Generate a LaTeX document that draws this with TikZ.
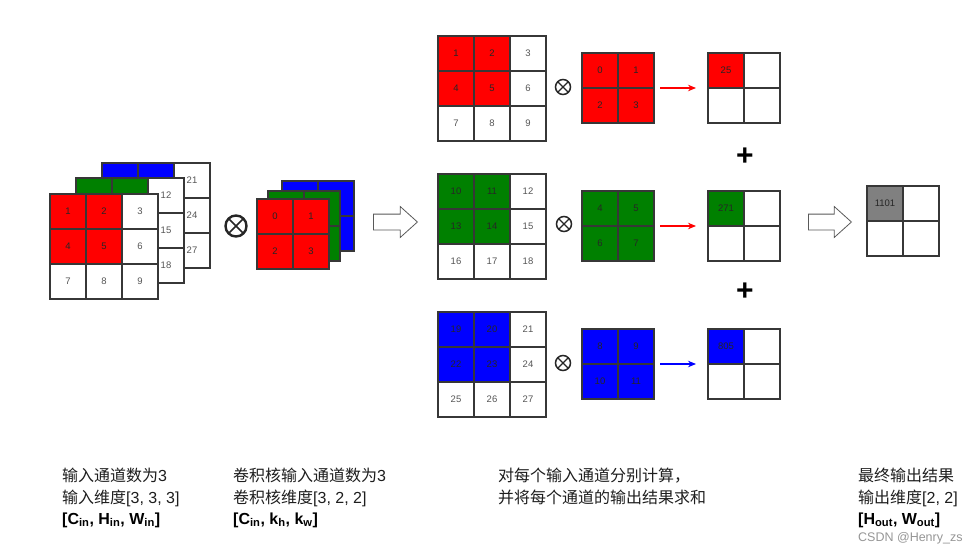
\documentclass[tikz,border=0pt]{standalone}
\usepackage{fontspec}
\setmainfont{Liberation Sans}
\newfontfamily\cjk{Noto Sans CJK SC}
\usetikzlibrary{shapes.arrows,fit,arrows.meta}
\definecolor{cred}{RGB}{255,0,0}
\definecolor{cgreen}{RGB}{0,128,0}
\definecolor{cblue}{RGB}{0,0,255}
\definecolor{cgray}{RGB}{128,128,128}
\definecolor{edge}{RGB}{55,55,55}
\definecolor{numgray}{RGB}{85,85,85}
\definecolor{txt}{RGB}{30,30,30}
\definecolor{wm}{RGB}{150,150,150}

\tikzset{
  cell/.style={draw=edge, line width=1.1pt, minimum width=36pt, minimum height=35pt,
    inner sep=0pt, outer sep=0pt, anchor=north west, font=\fontsize{9.5}{9.5}\selectfont},
  hollow/.style={single arrow, draw=black!65, line width=0.8pt, fill=white,
    minimum height=44pt, inner xsep=0pt, inner ysep=7.5pt,
    single arrow head extend=7.5pt, single arrow tip angle=84, anchor=west},
  bigotimes/.style={circle, draw=black!85, line width=2.4pt, minimum size=21pt, inner sep=0pt,
    path picture={\draw[black!85, line width=1.6pt]
      (path picture bounding box.north west) -- (path picture bounding box.south east)
      (path picture bounding box.north east) -- (path picture bounding box.south west);}},
  smallotimes/.style={circle, draw=black!85, line width=1.5pt, minimum size=15pt, inner sep=0pt,
    path picture={\draw[black!85, line width=1.1pt]
      (path picture bounding box.north west) -- (path picture bounding box.south east)
      (path picture bounding box.north east) -- (path picture bounding box.south west);}},
  resarrow/.style={-{Stealth[length=8pt,width=6.5pt]}, line width=1.1pt, shorten <=6pt, shorten >=12pt},
  fitbox/.style={inner sep=0pt, outer sep=0pt},
  plussign/.style={font=\bfseries\fontsize{30}{30}\selectfont, inner sep=0pt, text=black},
  captxt/.style={anchor=base west, inner sep=0pt, text=txt, font=\fontsize{16}{16}\selectfont},
  capbold/.style={anchor=base west, inner sep=0pt, text=black, font=\bfseries\fontsize{16}{16}\selectfont},
  wmark/.style={anchor=base west, inner sep=0pt, text=wm, font=\fontsize{12.5}{12.5}\selectfont}
}

% 3x3 grid, top-left 2x2 coloured
\newcommand\threegrid[5]{%
  \foreach \lab [count=\i from 0] in {#5}{%
    \pgfmathtruncatemacro\rr{floor(\i/3)}%
    \pgfmathtruncatemacro\cc{mod(\i,3)}%
    \def\fc{white}\def\tc{numgray}%
    \ifnum\rr<2 \ifnum\cc<2 \def\fc{#4}\def\tc{black!85}\fi\fi
    \node[cell, fill=\fc, text=\tc] (#1-\rr-\cc) at ({#2+\cc*36}, {#3+\rr*35}) {\lab};
  }}
% 2x2 grid, all cells coloured
\newcommand\twogrid[5]{%
  \foreach \lab [count=\i from 0] in {#5}{%
    \pgfmathtruncatemacro\rr{floor(\i/2)}%
    \pgfmathtruncatemacro\cc{mod(\i,2)}%
    \node[cell, fill=#4, text=black!85] (#1-\rr-\cc) at ({#2+\cc*36}, {#3+\rr*35}) {\lab};
  }}
% 2x2 output grid, first cell coloured
\newcommand\outgrid[5]{%
  \foreach \lab [count=\i from 0] in {#5,,,}{%
    \pgfmathtruncatemacro\rr{floor(\i/2)}%
    \pgfmathtruncatemacro\cc{mod(\i,2)}%
    \def\fc{white}%
    \ifnum\i=0 \def\fc{#4}\fi
    \node[cell, fill=\fc, text=black!85] (#1-\rr-\cc) at ({#2+\cc*36}, {#3+\rr*35}) {\lab};
  }}

\begin{document}
\begin{tikzpicture}[x=1pt, y=-1pt]
\useasboundingbox (0,0) rectangle (977,552);
\fill[white] (0,0) rectangle (977,552);

% ---- input stack ----
\threegrid{inB}{102}{163}{cblue}{,,21,,,24,,,27}
\threegrid{inG}{76}{178}{cgreen}{,,12,,,15,,,18}
\threegrid{inR}{50}{194}{cred}{1,2,3,4,5,6,7,8,9}

% ---- operator ----
\node[bigotimes] (op0) at (236,226) {};

% ---- kernel stack ----
\twogrid{kB}{282}{181}{cblue}{,,,}
\twogrid{kG}{268}{191}{cgreen}{,,,}
\twogrid{kR}{257}{199}{cred}{0,1,2,3}

% ---- first hollow arrow ----
\node[hollow] (ha1) at (373,222) {};

% ---- per-channel rows ----
\threegrid{cR}{438}{36}{cred}{1,2,3,4,5,6,7,8,9}
\threegrid{cG}{438}{174}{cgreen}{10,11,12,13,14,15,16,17,18}
\threegrid{cB}{438}{312}{cblue}{19,20,21,22,23,24,25,26,27}

\node[smallotimes] (op1) at (563,87) {};
\node[smallotimes] (op2) at (564,224) {};
\node[smallotimes] (op3) at (563,363) {};

\twogrid{k1}{582}{53}{cred}{0,1,2,3}
\twogrid{k2}{582}{191}{cgreen}{4,5,6,7}
\twogrid{k3}{582}{329}{cblue}{8,9,10,11}

\outgrid{o1}{708}{53}{cred}{25}
\outgrid{o2}{708}{191}{cgreen}{271}
\outgrid{o3}{708}{329}{cblue}{805}

\node[fit=(k1-0-0)(k1-1-1), fitbox] (k1) {};
\node[fit=(k2-0-0)(k2-1-1), fitbox] (k2) {};
\node[fit=(k3-0-0)(k3-1-1), fitbox] (k3) {};
\node[fit=(o1-0-0)(o1-1-1), fitbox] (o1) {};
\node[fit=(o2-0-0)(o2-1-1), fitbox] (o2) {};
\node[fit=(o3-0-0)(o3-1-1), fitbox] (o3) {};

\draw[resarrow, cred] (k1.east) -- (o1.west);
\draw[resarrow, cred] (k2.east) -- (o2.west);
\draw[resarrow, cblue] (k3.east) -- (o3.west);

\node[plussign] (p1) at (745,157) {+};
\node[plussign] (p2) at (745,292) {+};

% ---- second hollow arrow ----
\node[hollow, minimum height=43pt] (ha2) at (808,222) {};

% ---- final result ----
\outgrid{fin}{867}{186}{cgray}{1101}

% ---- captions ----
\node[captxt] (a1) at (62,481) {{\cjk 输入通道数为}3};
\node[captxt] (a2) at (62,503) {{\cjk 输入维度}[3, 3, 3]};
\node[capbold] (a3) at (62,524) {[C\textsubscript{in}, H\textsubscript{in}, W\textsubscript{in}]};

\node[captxt] (b1) at (233,481) {{\cjk 卷积核输入通道数为}3};
\node[captxt] (b2) at (233,503) {{\cjk 卷积核维度}[3, 2, 2]};
\node[capbold] (b3) at (233,524) {[C\textsubscript{in}, k\textsubscript{h}, k\textsubscript{w}]};

\node[captxt] (c1) at (498,481) {{\cjk 对每个输入通道分别计算，}};
\node[captxt] (c2) at (498,503) {{\cjk 并将每个通道的输出结果求和}};

\node[captxt] (d1) at (858,481) {{\cjk 最终输出结果}};
\node[captxt] (d2) at (858,503) {{\cjk 输出维度}[2, 2]};
\node[capbold] (d3) at (858,524) {[H\textsubscript{out}, W\textsubscript{out}]};
\node[wmark] (wm) at (858,541) {CSDN @Henry\_zs};
\end{tikzpicture}
\end{document}
